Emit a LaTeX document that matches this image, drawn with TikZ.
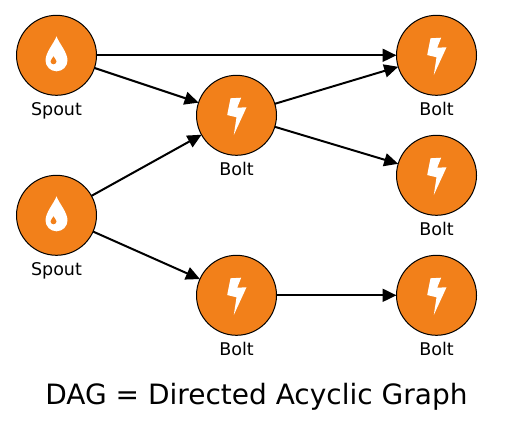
\documentclass[tikz,border=0pt]{standalone}
\usepackage{fontspec}
\setmainfont{DejaVu Sans}
\usetikzlibrary{arrows.meta}
\definecolor{stormorange}{HTML}{F2801A}
\tikzset{
  x=1pt,y=-1pt,
  comp/.style={circle,draw=black,line width=1pt,fill=stormorange,minimum size=80pt,inner sep=0pt,outer sep=0pt},
  lbl/.style={font=\fontsize{17.5}{20}\selectfont,inner sep=0pt,anchor=base},
  link/.style={line width=2pt,-{Triangle[length=14pt,width=13pt]}},
  boltpic/.pic={\fill[white] (-6,-17)--(4.7,-17.6)--(0.7,-7.6)--(10,-8)--(-2.7,19.7)--(0,2)--(-9.3,-0.3)--cycle;},
  droppic/.pic={
    \fill[white] (0,-19) .. controls (2.5,-12) and (11,-3) .. (11,5)
      arc[start angle=0,end angle=180,radius=11]
      .. controls (-11,-3) and (-2.5,-12) .. (0,-19) -- cycle;
    \fill[stormorange] (-3,1) .. controls (-2.5,3) and (0,4) .. (0,6)
      arc[start angle=0,end angle=180,radius=3]
      .. controls (-6,4) and (-3.5,3) .. (-3,1) -- cycle;
  }
}
\begin{document}
\begin{tikzpicture}
\useasboundingbox (0,0) rectangle (505,423);
\node[comp] (s1) at (56.5,55.3) {};
\node[comp] (s2) at (56.5,215.3) {};
\node[comp] (b1) at (236.5,115.3) {};
\node[comp] (b2) at (236.5,295.3) {};
\node[comp] (r1) at (436.5,55.3) {};
\node[comp] (r2) at (436.5,175.3) {};
\node[comp] (r3) at (436.5,295.3) {};
\pic at (s1) {droppic};
\pic at (s2) {droppic};
\pic at (b1) {boltpic};
\pic at (b2) {boltpic};
\pic at (r1) {boltpic};
\pic at (r2) {boltpic};
\pic at (r3) {boltpic};
\node[lbl] (ls1) at (56.5,115.2) {Spout};
\node[lbl] (ls2) at (56.5,275.2) {Spout};
\node[lbl] (lb1) at (236.5,175.2) {Bolt};
\node[lbl] (lb2) at (236.5,355.2) {Bolt};
\node[lbl] (lr1) at (436.5,115.2) {Bolt};
\node[lbl] (lr2) at (436.5,235.2) {Bolt};
\node[lbl] (lr3) at (436.5,355.2) {Bolt};
\node[font=\fontsize{28}{32}\selectfont,inner sep=0pt,anchor=base] (title) at (256.5,404.8) {DAG = Directed Acyclic Graph};
\draw[link] (s1) -- (r1);
\draw[link] (s1) -- (b1);
\draw[link] (s2) -- (b1);
\draw[link] (s2) -- (b2);
\draw[link] (b1) -- (r1);
\draw[link] (b1) -- (r2);
\draw[link] (b2) -- (r3);
\end{tikzpicture}
\end{document}
